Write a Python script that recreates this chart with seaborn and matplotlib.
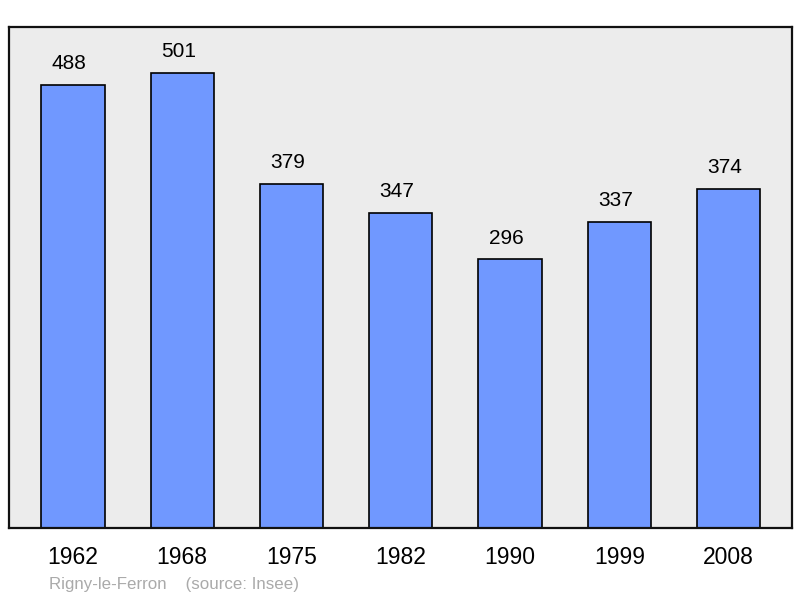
import matplotlib
matplotlib.use("Agg")
import matplotlib.pyplot as plt
import seaborn as sns
import pandas as pd

# population data
years = ["1962", "1968", "1975", "1982", "1990", "1999", "2008"]
population = [488, 501, 379, 347, 296, 337, 374]

df = pd.DataFrame({"year": years, "pop": population})

sns.set_style("white")
plt.rcParams['font.family'] = ['Liberation Sans', 'DejaVu Sans']

fig = plt.figure(figsize=(8, 5.98), dpi=100)
ax = fig.add_axes([9/800, 70/598, 783/800, 501/598])
ax.set_facecolor("#ececec")

sns.barplot(data=df, x="year", y="pop", color="#7098ff", saturation=1,
            width=0.58, edgecolor="black", linewidth=1.2, ax=ax)

# value labels above bars
for i, v in enumerate(population):
    ax.text(i - 0.035, v + 13, str(v), ha="center", va="bottom",
            fontsize=15, color="black")

ax.set_ylim(0, 552)
ax.set_xlim(-0.585, 6.58)
ax.set_yticks([])
ax.set_xlabel("")
ax.set_ylabel("")
ax.tick_params(axis="x", length=0, labelsize=16.5, pad=13, labelcolor="black")
for s in ax.spines.values():
    s.set_visible(True)
    s.set_color("#111111")
    s.set_linewidth(1.6)

fig.text(49/800, 1 - 584/598, "Rigny-le-Ferron    (source: Insee)",
         color="#aaaaaa", fontsize=12.2, ha="left", va="center")

fig.savefig("out.png", dpi=100)
